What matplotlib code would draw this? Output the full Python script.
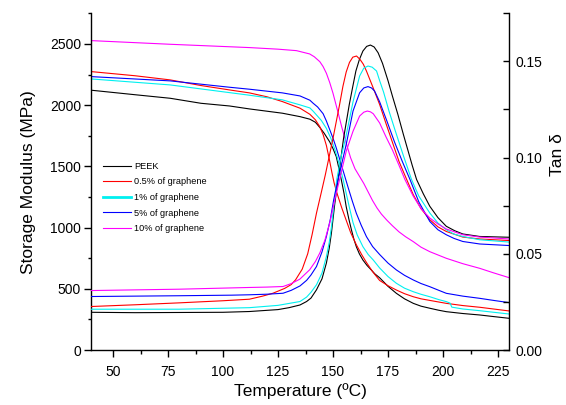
import matplotlib
matplotlib.use("Agg")
import matplotlib.pyplot as plt
from matplotlib.ticker import MultipleLocator, FormatStrFormatter

plt.rcParams['font.family'] = ['Liberation Sans', 'DejaVu Sans']

labels = ["PEEK", "0.5% of graphene", "1% of graphene", "5% of graphene", "10% of graphene"]
colors = ["#000000", "#ff0000", "#00f0f0", "#0000ff", "#ff00ff"]

# Storage modulus (MPa) vs temperature (C)
black_T_s = [40, 60, 76, 90, 103, 112, 127, 135, 139.5, 142, 144, 146, 148.5, 150, 151.5, 152.6, 153.8, 155, 156, 157.2, 158.4, 159.5, 160.6, 162, 163.6, 165.5, 167.4, 169, 171.2, 175, 178.8, 182.5, 186.5, 190, 194, 198, 201.5, 209, 216.7, 223, 230]
black_S = [2122, 2085, 2056, 2015, 1993, 1969, 1934, 1906, 1885, 1860, 1818, 1770, 1700, 1645, 1579, 1490, 1389, 1280, 1171, 1070, 980, 905, 844, 785, 735, 690, 654, 622, 590, 520, 463, 418, 381, 358, 341, 325, 313, 298, 286, 273, 259]

red_T_s = [40, 60, 76, 90, 103, 112, 120, 127, 135, 139.5, 142, 144, 145.5, 147, 148.3, 149.5, 150.5, 152, 154, 156, 158, 160.6, 163, 165.2, 168, 171.2, 175, 178.8, 182.5, 186.5, 190, 194, 201.5, 209, 216.7, 230]
red_S = [2274, 2240, 2206, 2160, 2124, 2100, 2068, 2029, 1975, 1925, 1880, 1824, 1760, 1670, 1560, 1450, 1365, 1270, 1160, 1060, 960, 860, 780, 715, 640, 568, 525, 490, 460, 435, 418, 405, 381, 363, 349, 319]

cyan_T_s = [40, 76, 103, 112, 127, 135, 139.5, 141, 144.7, 147, 149, 151, 152.8, 154.5, 156, 157.5, 159.1, 161, 163.6, 166, 168.3, 171.2, 175, 178.8, 182.5, 186.5, 190, 194, 198, 201.5, 203.2, 204, 209, 216.7, 230]
cyan_S = [2214, 2165, 2102, 2081, 2043, 2002, 1977, 1950, 1875, 1810, 1730, 1630, 1520, 1400, 1280, 1160, 1040, 940, 844, 780, 735, 670, 600, 545, 505, 476, 455, 435, 412, 395, 383, 350, 335, 321, 294]

blue_T_s = [40, 76, 103, 112, 127, 135, 139.5, 141, 143, 145.5, 147, 148.5, 150, 151.5, 153, 155, 157, 158.8, 160.6, 162.8, 165.2, 168, 171.2, 175, 178.8, 182.5, 186.5, 190, 194, 198, 201.5, 209, 216.7, 223, 230]
blue_S = [2233, 2198, 2146, 2130, 2100, 2075, 2040, 2015, 1985, 1930, 1870, 1800, 1730, 1650, 1560, 1440, 1320, 1215, 1117, 1020, 926, 845, 780, 710, 654, 610, 572, 543, 517, 488, 463, 440, 422, 405, 387]

magenta_T_s = [40, 76, 112, 125, 133.4, 139.4, 141.5, 144, 145.5, 147, 148.5, 150, 152, 154, 156, 158, 160, 162, 164, 166, 168, 170, 172, 174.5, 177, 180, 183, 186.5, 190, 194, 201.5, 209, 216.7, 223, 230]
magenta_S = [2527, 2497, 2470, 2457, 2445, 2418, 2395, 2355, 2315, 2260, 2185, 2097, 1960, 1820, 1690, 1570, 1480, 1420, 1360, 1290, 1220, 1160, 1110, 1060, 1015, 965, 925, 885, 840, 803, 749, 705, 667, 630, 591]

# Tan delta vs temperature (C)
black_T_t = [40, 60, 80, 100, 112, 125, 130, 135, 138, 140, 142.5, 145, 147, 148.3, 149.3, 150.8, 152.3, 154.8, 157.4, 159, 160.4, 162, 163.6, 165.3, 167, 168.7, 170.5, 172.5, 175, 177, 179.5, 182, 184, 186, 188, 191, 194, 197.7, 201.5, 205.3, 209, 216.7, 230]
black_t = [0.0196, 0.0194, 0.0195, 0.0196, 0.0200, 0.0210, 0.0220, 0.0234, 0.0252, 0.0270, 0.0313, 0.0370, 0.0452, 0.053, 0.061, 0.076, 0.0886, 0.110, 0.1276, 0.137, 0.145, 0.151, 0.1554, 0.1578, 0.1585, 0.1575, 0.1545, 0.149, 0.140, 0.132, 0.1224, 0.112, 0.104, 0.096, 0.0886, 0.0813, 0.0747, 0.0688, 0.0643, 0.062, 0.0603, 0.059, 0.0586]

red_T_t = [40, 60, 80, 100, 112, 118, 122.7, 128, 131, 133, 136, 138.5, 140.5, 142.5, 144.7, 146.5, 150, 153, 154.5, 156, 157.5, 159, 160.7, 162.3, 163.8, 165.2, 168, 171.2, 174, 177, 180, 183.5, 186.5, 190, 194, 197.7, 201.5, 209, 216.7, 230]
red_t = [0.0226, 0.0235, 0.0245, 0.0256, 0.0264, 0.028, 0.0295, 0.032, 0.034, 0.0365, 0.042, 0.050, 0.060, 0.0712, 0.082, 0.091, 0.110, 0.1276, 0.137, 0.1445, 0.1495, 0.1522, 0.1528, 0.151, 0.1485, 0.145, 0.137, 0.1276, 0.118, 0.108, 0.098, 0.0886, 0.0807, 0.0735, 0.0677, 0.064, 0.0616, 0.0587, 0.0577, 0.0569]

cyan_T_t = [40, 80, 112, 125, 135, 138, 140, 142.5, 145, 147, 148.3, 149.3, 151.7, 153.6, 155.7, 159.1, 162.1, 164, 165.9, 167.8, 169.8, 171.2, 173, 175.5, 178, 182, 185.7, 189, 194, 197.7, 201.5, 205, 209, 216.7, 230]
cyan_t = [0.0212, 0.0212, 0.0220, 0.0232, 0.0252, 0.0275, 0.030, 0.0339, 0.040, 0.0486, 0.056, 0.064, 0.0886, 0.100, 0.110, 0.129, 0.1424, 0.1465, 0.1476, 0.1470, 0.145, 0.140, 0.134, 0.124, 0.115, 0.101, 0.0886, 0.080, 0.0712, 0.066, 0.0625, 0.0602, 0.059, 0.0573, 0.0561]

blue_T_t = [40, 80, 104, 112, 120, 127.3, 131, 135, 138, 140, 142.5, 145, 147, 148.8, 150.3, 152.3, 156, 159.1, 162.1, 164, 165.9, 167.5, 168.9, 171.2, 174.5, 178, 181.5, 185, 189, 194, 197.7, 201.5, 205, 209, 216.7, 230]
blue_t = [0.0278, 0.0282, 0.0285, 0.0287, 0.029, 0.0295, 0.031, 0.0333, 0.0362, 0.039, 0.0434, 0.051, 0.059, 0.068, 0.078, 0.0886, 0.1068, 0.1242, 0.1337, 0.1362, 0.1369, 0.1362, 0.1346, 0.129, 0.119, 0.108, 0.098, 0.0886, 0.077, 0.0668, 0.0625, 0.0599, 0.058, 0.0564, 0.0551, 0.0543]

magenta_T_t = [40, 80, 112, 120, 127.3, 131, 134.9, 139.4, 142, 144, 146.3, 148.5, 151.5, 153, 156, 159.1, 162.1, 164, 165.6, 167, 168.3, 171.2, 174, 177, 180, 182.7, 186.5, 190, 194, 197.7, 201.5, 209, 216.7, 230]
magenta_t = [0.0309, 0.0316, 0.0325, 0.0327, 0.033, 0.0345, 0.0368, 0.0417, 0.046, 0.0504, 0.057, 0.066, 0.0816, 0.0886, 0.1033, 0.1137, 0.1216, 0.1236, 0.1242, 0.1238, 0.1228, 0.118, 0.111, 0.104, 0.096, 0.0886, 0.0799, 0.0735, 0.0686, 0.0655, 0.0629, 0.0599, 0.0587, 0.0577]

storage = [(black_T_s, black_S), (red_T_s, red_S), (cyan_T_s, cyan_S), (blue_T_s, blue_S), (magenta_T_s, magenta_S)]
tand = [(black_T_t, black_t), (red_T_t, red_t), (cyan_T_t, cyan_t), (blue_T_t, blue_t), (magenta_T_t, magenta_t)]

fig = plt.figure(figsize=(5.66, 4.05), dpi=100)
ax = fig.add_axes([91/566, 55/405, 418/566, 336.7/405])
ax2 = ax.twinx()

lw = 0.8
handles = []
for (T, S), c, lab in zip(storage, colors, labels):
    h, = ax.plot(T, S, color=c, lw=lw, label=lab)
    handles.append(h)
for (T, t), c in zip(tand, colors):
    ax2.plot(T, t, color=c, lw=lw)

ax.set_xlim(40, 230)
ax.set_ylim(0, 2750)
ax2.set_ylim(0, 0.175)

ax.set_xticks([50, 75, 100, 125, 150, 175, 200, 225])
ax.xaxis.set_minor_locator(MultipleLocator(12.5))
ax.yaxis.set_major_locator(MultipleLocator(500))
ax.yaxis.set_minor_locator(MultipleLocator(250))
ax2.yaxis.set_major_locator(MultipleLocator(0.05))
ax2.yaxis.set_minor_locator(MultipleLocator(0.025))
ax2.yaxis.set_major_formatter(FormatStrFormatter('%.2f'))

for a in (ax, ax2):
    a.spines['top'].set_visible(False)
    for s in a.spines.values():
        s.set_linewidth(1.0)
ax.spines['right'].set_visible(False)
ax2.spines['left'].set_visible(False)
ax2.spines['bottom'].set_visible(False)

ax.tick_params(axis='x', which='major', length=5, width=1.0, pad=6, labelsize=10, direction='out')
ax.tick_params(axis='x', which='minor', length=3, width=1.0, direction='out')
ax.tick_params(axis='y', which='major', length=5, width=1.0, pad=2.2, labelsize=10, direction='out')
ax.tick_params(axis='y', which='minor', length=2.5, width=1.0, direction='out')
ax2.tick_params(axis='y', which='major', length=4.5, width=1.0, pad=5, labelsize=10, direction='in')
ax2.tick_params(axis='y', which='minor', length=4.5, width=1.0, direction='in')

ax.set_xlabel("Temperature (ºC)", fontsize=12.5, labelpad=3)
ax.set_ylabel("Storage Modulus (MPa)", fontsize=12.5, labelpad=10)
ax2.set_ylabel("Tan δ", fontsize=12.5)
ax2.yaxis.set_label_coords(1.097, 0.58)

leg = ax.legend(handles=handles, loc='upper left', bbox_to_anchor=(0.029, 0.559),
                frameon=False, fontsize=6.6, handlelength=3.0, handletextpad=0.4,
                labelspacing=0.72, borderpad=0, borderaxespad=0)
leg.legend_handles[2].set_linewidth(2.0)

fig.savefig("out.png", dpi=100)
